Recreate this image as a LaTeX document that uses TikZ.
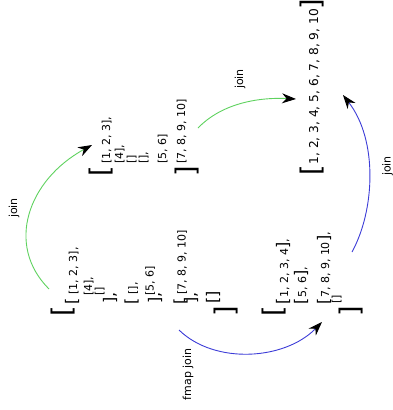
\documentclass[tikz,border=0pt]{standalone}
\usepackage{fontspec}
\setmainfont{DejaVu Sans}
\usetikzlibrary{arrows.meta}

\definecolor{joingreen}{RGB}{95,210,95}
\definecolor{fmapblue}{RGB}{60,60,215}

% bracket sizes by nesting depth
\newcommand{\mb}{\fontsize{16}{16}\selectfont}
\newcommand{\mbs}{\fontsize{16}{16}\selectfont}

\begin{document}
\begin{tikzpicture}[
  x=1pt,y=-1pt,
  elem/.style={font=\fontsize{11}{11}\selectfont,rotate=90,anchor=base west,inner sep=0pt},
  elems/.style={font=\fontsize{11}{11}\selectfont,rotate=90,anchor=base west,inner sep=0pt},
  flat/.style={font=\fontsize{12.2}{12.2}\selectfont,rotate=90,anchor=base west,inner sep=0pt},
  bigbr/.style={font=\fontsize{27}{27}\selectfont,rotate=90,inner sep=0pt},
  lab/.style={font=\fontsize{11}{11}\selectfont,rotate=90,inner sep=0pt},
  joinarr/.style={draw=joingreen,line width=0.9pt,-{Stealth[black,length=14pt,width=10pt]}},
  fmaparr/.style={draw=fmapblue,line width=0.9pt,-{Stealth[black,length=14pt,width=10pt]}}
]
\useasboundingbox (0,0) rectangle (393,410);

% ---------------- nested list ----------------
\node[bigbr] (n-open) at (63,311) {[};
\node[elem] (n-l1) at (77,304.4) {{\mb[} [1, 2, 3],};
\node[elem] (n-l2) at (92,296) {[4],};
\node[elem] (n-l3) at (103,296) {[]};
\node[elem] (n-l4) at (115,304) {\mb],};
\node[elem] (n-l5) at (136.5,304.4) {{\mb[} [],};
\node[elem] (n-l6) at (153.5,296) {[5, 6]};
\node[elem] (n-l7) at (160,304) {\mb],};
\node[elem] (n-l8) at (185.5,304.4) {{\mb[} [7, 8, 9, 10]};
\node[elem] (n-l9) at (196,304) {\mb],};
\node[elem] (n-l10) at (218,304) {\mb[]};
\node[bigbr] (n-close) at (226.5,311) {]};

% ---------------- join ----------------
\node[bigbr] (j-open) at (101.5,171) {[};
\node[elem] (j-l1) at (110,164) {[1, 2, 3],};
\node[elem] (j-l2) at (123,164) {[4],};
\node[elem] (j-l3) at (135,164) {[]};
\node[elem] (j-l4) at (147,164) {[],};
\node[elem] (j-l5) at (166,164) {[5, 6]};
\node[elem] (j-l6) at (185,164) {[7, 8, 9, 10]};
\node[bigbr] (j-close) at (187,171) {]};

% ---------------- fmap join ----------------
\node[bigbr] (f-open) at (274.5,311) {[};
\node[elems] (f-l1) at (288,304.4) {{\mbs[}1, 2, 3, 4{\mbs]},};
\node[elems] (f-l2) at (306,304.4) {{\mbs[}5, 6{\mbs]},};
\node[elems] (f-l3) at (329,304.4) {{\mbs[}7, 8, 9, 10{\mbs]},};
\node[elems] (f-l4) at (340,304) {[]};
\node[bigbr] (f-close) at (351.5,311) {]};

% ---------------- flat result ----------------
\node[bigbr] (r-open) at (312.5,170.5) {[};
\node[flat] (r-l1) at (318,164.5) {1, 2, 3, 4, 5, 6, 7, 8, 9, 10};
\node[bigbr] (r-close) at (312.5,4.5) {]};

% ---------------- arrows ----------------
\coordinate (a1s) at (49,289);
\coordinate (a1e) at (92,145);
\coordinate (a2s) at (198,128);
\coordinate (a2e) at (296,99);
\coordinate (a3s) at (179,330);
\coordinate (a3e) at (322,322);
\coordinate (a4s) at (352,252);
\coordinate (a4e) at (343,95);

\draw[joinarr] (a1s) .. controls (5,245) and (28,180) .. (a1e);
\draw[joinarr] (a2s) .. controls (220,105) and (255,97) .. (a2e);
\draw[fmaparr] (a3s) .. controls (215,365) and (285,360) .. (a3e);
\draw[fmaparr] (a4s) .. controls (375,210) and (378,140) .. (a4e);

\node[lab] (lab1) at (14,208) {join};
\node[lab] (lab2) at (240,79) {join};
\node[lab] (lab3) at (188,374.5) {fmap join};
\node[lab] (lab4) at (387.5,166) {join};

\end{tikzpicture}
\end{document}
